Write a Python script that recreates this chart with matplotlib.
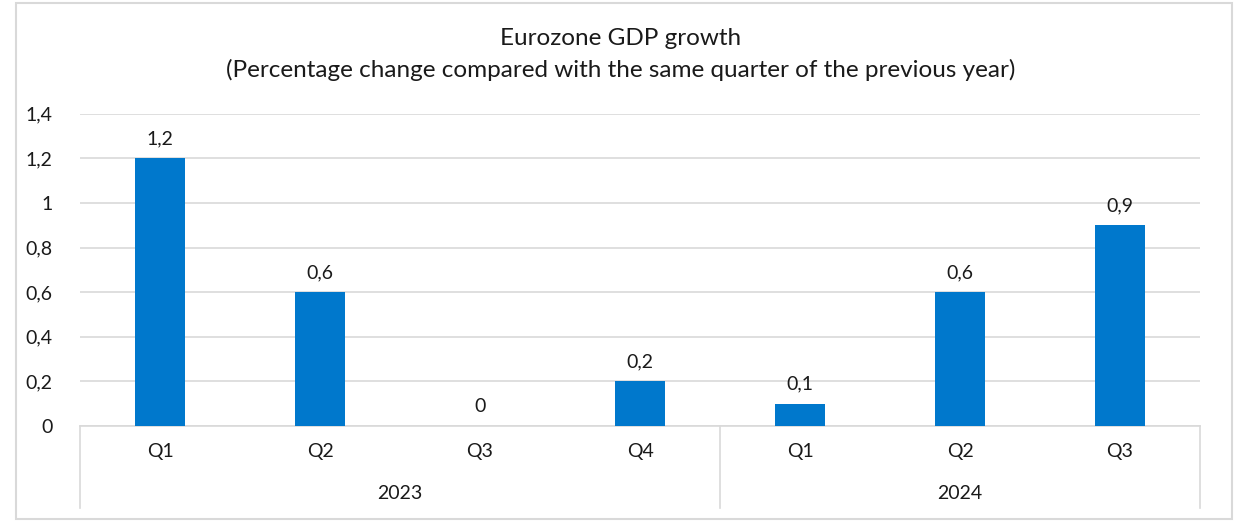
import numpy as np
import matplotlib.pyplot as plt
from matplotlib.patches import Rectangle
from matplotlib.ticker import FuncFormatter

# chart data
quarters = ['Q1', 'Q2', 'Q3', 'Q4', 'Q1', 'Q2', 'Q3']
years = ['2023', '2024']
year_sizes = [4, 3]
growth = [1.2, 0.6, 0.0, 0.2, 0.1, 0.6, 0.9]
y_ticks = [0, 0.2, 0.4, 0.6, 0.8, 1.0, 1.2, 1.4]

BAR_COLOR = '#0078CC'
GRID_COLOR = '#d9d9d9'
TEXT_COLOR = '#1a1a1a'
FS = 14

plt.rcParams['font.family'] = ['Lato', 'DejaVu Sans']


def comma(v, pos=None):
    return f'{v:g}'.replace('.', ',')


fig = plt.figure(figsize=(12.41, 5.31), dpi=100)
ax = fig.add_axes([0.0645, 0.1977, 0.9025, 0.588])

x = np.arange(len(growth))
bars = ax.bar(x, growth, width=0.31, color=BAR_COLOR, zorder=3)
for xi, val in zip(x, growth):
    ax.annotate(comma(val), (xi, val), xytext=(0, 8), textcoords='offset points',
                ha='center', va='bottom', fontsize=FS, color=TEXT_COLOR)

ax.set_xlim(-0.5, len(growth) - 0.5)
ax.set_ylim(0, 1.4)
ax.set_yticks(y_ticks)
ax.yaxis.set_major_formatter(FuncFormatter(comma))
ax.grid(axis='y', color=GRID_COLOR, linewidth=1.2, zorder=0)
ax.tick_params(axis='y', length=0, pad=20, labelsize=FS, labelcolor=TEXT_COLOR)
ax.tick_params(axis='x', length=0)
ax.set_xticks([])
for s in ['top', 'right', 'left']:
    ax.spines[s].set_visible(False)
ax.spines['bottom'].set_color(GRID_COLOR)
ax.spines['bottom'].set_linewidth(1.2)

# multi-level category axis
tr = ax.get_xaxis_transform()
for xi, q in zip(x, quarters):
    ax.text(xi, -0.083, q, transform=tr, ha='center', va='center',
            fontsize=FS, color=TEXT_COLOR)
start = 0
bounds = [-0.5]
for yr, n in zip(years, year_sizes):
    mid = start + (n - 1) / 2
    ax.text(mid, -0.215, yr, transform=tr, ha='center', va='center',
            fontsize=FS, color=TEXT_COLOR)
    start += n
    bounds.append(start - 0.5)
for b in bounds:
    ax.plot([b, b], [0, -0.263], transform=tr, color=GRID_COLOR,
            linewidth=1.2, clip_on=False)

fig.text(0.5, 0.928, 'Eurozone GDP growth', ha='center', va='center',
         fontsize=17.5, color=TEXT_COLOR)
fig.text(0.5, 0.868,
         '(Percentage change compared with the same quarter of the previous year)',
         ha='center', va='center', fontsize=17.5, color=TEXT_COLOR)

# outer chart border
fig.patches.append(Rectangle((16 / 1241, 12 / 531), 1216 / 1241, 516 / 531,
                             transform=fig.transFigure, fill=False,
                             edgecolor=GRID_COLOR, linewidth=1.5))

fig.savefig('out.png', dpi=100, facecolor='white')
